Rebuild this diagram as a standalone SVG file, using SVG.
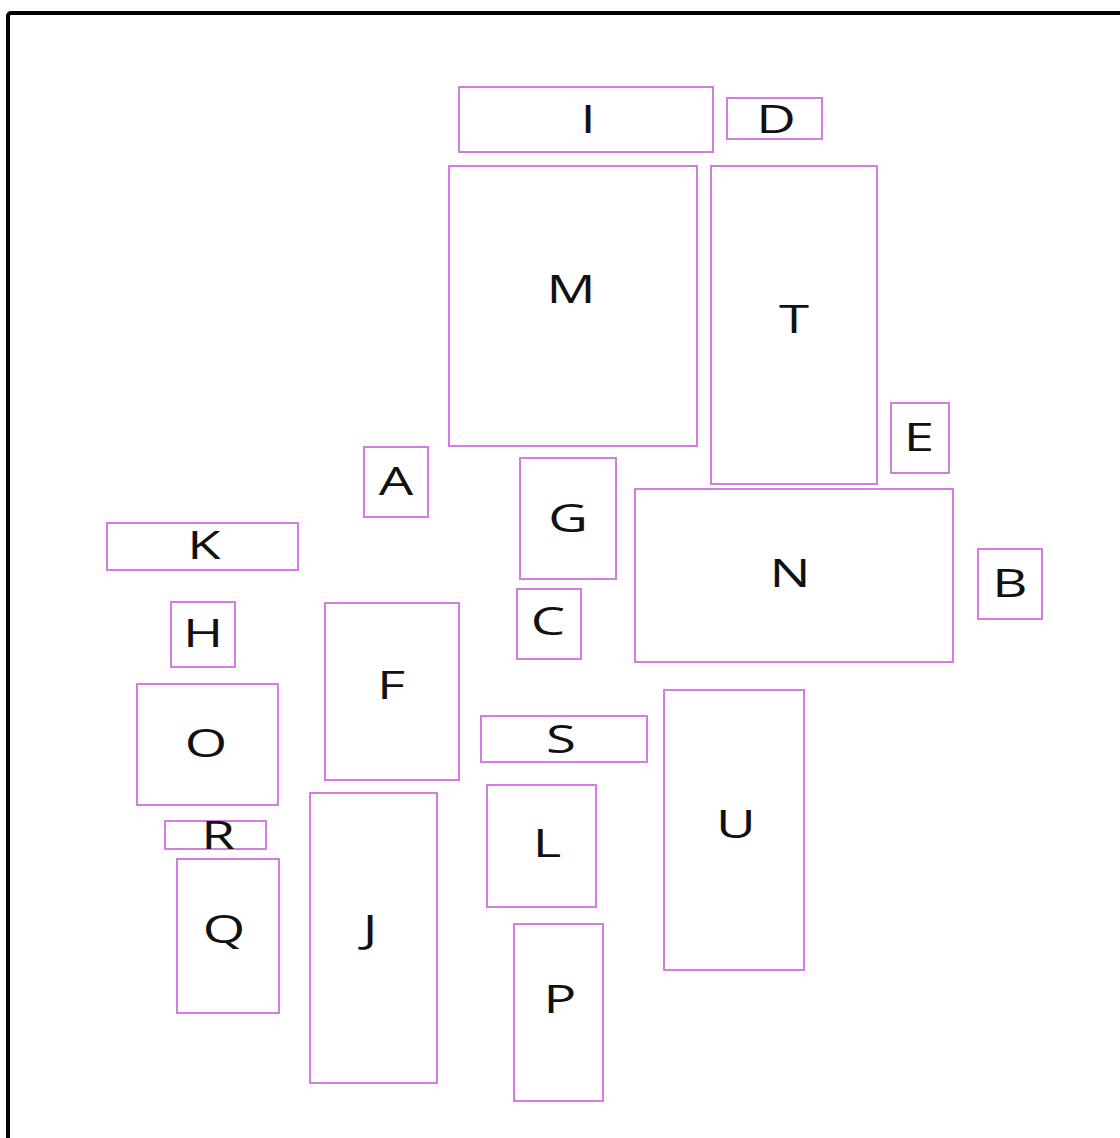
<svg xmlns="http://www.w3.org/2000/svg" width="1120" height="1138" viewBox="0 0 1120 1138">
<style>
.n rect{fill:#ffffff;stroke:#d27ee0;stroke-width:2}
.n text{font-family:"Open Sans","Noto Sans","Liberation Sans",sans-serif;font-size:39px;fill:#111111;text-anchor:middle}
</style>
<rect x="0" y="0" width="1120" height="1138" fill="#ffffff"/>
<rect x="8" y="13" width="1200" height="1200" rx="3" fill="none" stroke="#000000" stroke-width="4"/>
<g id="connectors"></g>
<g id="I" class="n"><rect x="459" y="87" width="254" height="65"/><text transform="translate(588 133) scale(1.4 1)">I</text></g>
<g id="D" class="n"><rect x="727" y="98" width="95" height="41"/><text transform="translate(776 133) scale(1.4 1)">D</text></g>
<g id="M" class="n"><rect x="449" y="166" width="248" height="280"/><text transform="translate(571 303) scale(1.4 1)">M</text></g>
<g id="T" class="n"><rect x="711" y="166" width="166" height="318"/><text transform="translate(794 333) scale(1.4 1)">T</text></g>
<g id="E" class="n"><rect x="891" y="403" width="58" height="70"/><text transform="translate(919 451) scale(1.4 1)">E</text></g>
<g id="A" class="n"><rect x="364" y="447" width="64" height="70"/><text transform="translate(396 495) scale(1.4 1)">A</text></g>
<g id="G" class="n"><rect x="520" y="458" width="96" height="121"/><text transform="translate(568 532) scale(1.4 1)">G</text></g>
<g id="K" class="n"><rect x="107" y="523" width="191" height="47"/><text transform="translate(204 559) scale(1.4 1)">K</text></g>
<g id="N" class="n"><rect x="635" y="489" width="318" height="173"/><text transform="translate(790 587) scale(1.4 1)">N</text></g>
<g id="B" class="n"><rect x="978" y="549" width="64" height="70"/><text transform="translate(1010 597) scale(1.4 1)">B</text></g>
<g id="H" class="n"><rect x="171" y="602" width="64" height="65"/><text transform="translate(203 647) scale(1.4 1)">H</text></g>
<g id="C" class="n"><rect x="517" y="589" width="64" height="70"/><text transform="translate(548 635) scale(1.4 1)">C</text></g>
<g id="F" class="n"><rect x="325" y="603" width="134" height="177"/><text transform="translate(391 699) scale(1.4 1)">F</text></g>
<g id="O" class="n"><rect x="137" y="684" width="141" height="121"/><text transform="translate(206 757) scale(1.4 1)">O</text></g>
<g id="S" class="n"><rect x="481" y="716" width="166" height="46"/><text transform="translate(561 753) scale(1.4 1)">S</text></g>
<g id="U" class="n"><rect x="664" y="690" width="140" height="280"/><text transform="translate(736 838) scale(1.4 1)">U</text></g>
<g id="R" class="n"><rect x="165" y="821" width="101" height="28"/><text transform="translate(218 849) scale(1.4 1)">R</text></g>
<g id="Q" class="n"><rect x="177" y="859" width="102" height="154"/><text transform="translate(224 943) scale(1.4 1)">Q</text></g>
<g id="J" class="n"><rect x="310" y="793" width="127" height="290"/><text transform="translate(370 943) scale(1.4 1)">J</text></g>
<g id="L" class="n"><rect x="487" y="785" width="109" height="122"/><text transform="translate(547 857) scale(1.4 1)">L</text></g>
<g id="P" class="n"><rect x="514" y="924" width="89" height="177"/><text transform="translate(560 1013) scale(1.4 1)">P</text></g>
</svg>
